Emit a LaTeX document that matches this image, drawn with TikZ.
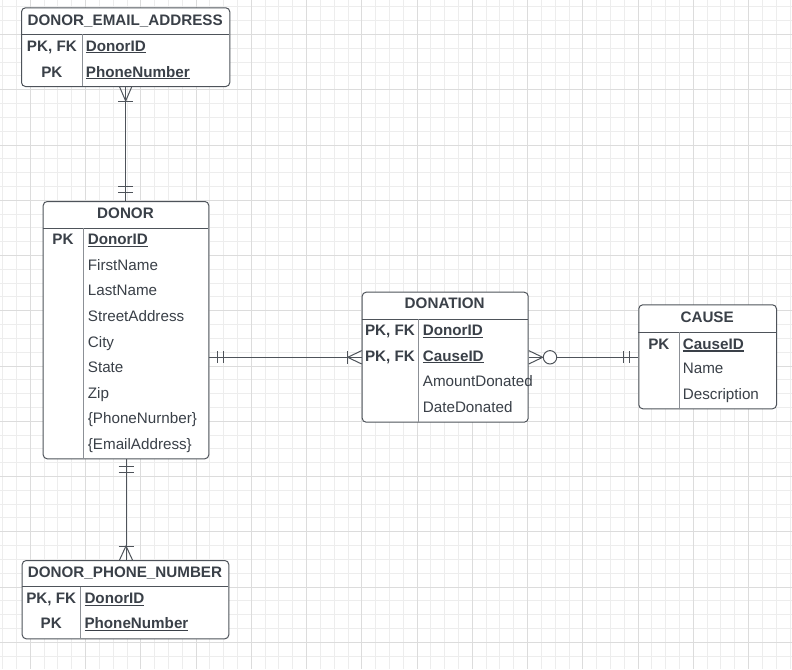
\documentclass[tikz,border=0pt]{standalone}
\usepackage{fontspec}
\setmainfont{Liberation Sans}
\usetikzlibrary{calc}
\definecolor{ink}{RGB}{58,64,72}
\definecolor{edge}{RGB}{78,83,90}
\definecolor{divc}{RGB}{140,144,150}
\definecolor{gminor}{RGB}{237,237,237}
\definecolor{gmajor}{RGB}{220,220,220}
\newcommand\ulkey[1]{\setbox0=\hbox{\bfseries #1}\rlap{\rule[-2.3pt]{\wd0}{1.1pt}}\box0}
\tikzset{
  ent/.style={draw=edge, line width=1pt, fill=white, rounded corners=4pt, inner sep=0pt, anchor=north west},
  hdr/.style={font=\bfseries\fontsize{15.2}{18}\selectfont, text=ink, anchor=base, inner sep=0pt},
  keyc/.style={font=\bfseries\fontsize{15.2}{18}\selectfont, text=ink, anchor=base, inner sep=0pt},
  att/.style={font=\fontsize{15.2}{18}\selectfont, text=ink, anchor=base west, inner sep=0pt},
  hline/.style={draw=edge, line width=1pt},
  vline/.style={draw=divc, line width=1.2pt},
  conn/.style={draw=edge, line width=1pt},
}
\begin{document}
\begin{tikzpicture}[x=1pt,y=-1pt]
\useasboundingbox (0,0) rectangle (792,669);
\fill[white] (0,0) rectangle (792,669);
% grid
\foreach \i in {0,...,57} \draw[gminor, line width=0.9pt] ({2.675+\i*13.8125},0) -- ++(0,669);
\foreach \i in {0,...,47} \draw[gminor, line width=0.9pt] (0,{6.875+\i*13.8125}) -- ++(792,0);
\foreach \i in {0,...,13} \draw[gmajor, line width=0.9pt] ({30.3+\i*55.25},0) -- ++(0,669);
\foreach \i in {0,...,11} \draw[gmajor, line width=0.9pt] (0,{34.5+\i*55.25}) -- ++(792,0);

% entities
\node[ent, minimum width=208.3pt, minimum height=78.7pt] (email) at (21,7.3) {};
\node[ent, minimum width=165.6pt, minimum height=257.3pt] (donor) at (42.7,201) {};
\node[ent, minimum width=166pt, minimum height=130pt] (donation) at (361.7,291.7) {};
\node[ent, minimum width=137.7pt, minimum height=104pt] (cause) at (638.3,304.3) {};
\node[ent, minimum width=206.6pt, minimum height=78.3pt] (phone) at (21.7,560) {};

% internal lines
\draw[hline] (21,34.3) -- (229.3,34.3);
\draw[vline] (82.7,34.3) -- (82.7,86);
\draw[hline] (42.7,228) -- (208.3,228);
\draw[vline] (83.3,228) -- (83.3,458.3);
\draw[hline] (361.7,319) -- (527.7,319);
\draw[vline] (418.3,319) -- (418.3,421.7);
\draw[hline] (638.3,332.3) -- (776,332.3);
\draw[vline] (679.3,332.3) -- (679.3,408.3);
\draw[hline] (21.7,586.7) -- (228.3,586.7);
\draw[vline] (80.7,586.7) -- (80.7,638.3);

% DONOR_EMAIL_ADDRESS
\node[hdr] (emailh) at (125.15,26) {DONOR\_EMAIL\_ADDRESS};
\node[keyc] (emailk1) at (51.9,51.2) {PK, FK};
\node[att] (emaila1) at (85.7,51.2) {\ulkey{DonorID}};
\node[keyc] (emailk2) at (51.9,77.1) {PK};
\node[att] (emaila2) at (85.7,77.1) {\ulkey{PhoneNumber}};

% DONOR
\node[hdr] (donorh) at (125.5,218) {DONOR};
\node[keyc] (donork1) at (63,244.7) {PK};
\node[att] (donora1) at (87.7,244.7) {\ulkey{DonorID}};
\node[att] (donora2) at (87.7,270.3) {FirstName};
\node[att] (donora3) at (87.7,295.9) {LastName};
\node[att] (donora4) at (87.7,321.5) {StreetAddress};
\node[att] (donora5) at (87.7,347.1) {City};
\node[att] (donora6) at (87.7,372.7) {State};
\node[att] (donora7) at (87.7,398.3) {Zip};
\node[att] (donora8) at (87.7,423.9) {\{PhoneNurnber\}};
\node[att] (donora9) at (87.7,449.5) {\{EmailAddress\}};

% DONATION
\node[hdr] (donationh) at (444.7,308.7) {DONATION};
\node[keyc] (donationk1) at (390,335.4) {PK, FK};
\node[att] (donationa1) at (422.7,335.4) {\ulkey{DonorID}};
\node[keyc] (donationk2) at (390,361) {PK, FK};
\node[att] (donationa2) at (422.7,361) {\ulkey{CauseID}};
\node[att] (donationa3) at (422.7,386.6) {AmountDonated};
\node[att] (donationa4) at (422.7,412.2) {DateDonated};

% CAUSE
\node[hdr] (causeh) at (707.15,322.1) {CAUSE};
\node[keyc] (causek1) at (658.8,349.2) {PK};
\node[att] (causea1) at (682.7,349.2) {\ulkey{CauseID}};
\node[att] (causea2) at (682.7,373.9) {Name};
\node[att] (causea3) at (682.7,399.5) {Description};

% DONOR_PHONE_NUMBER
\node[hdr] (phoneh) at (125,577.1) {DONOR\_PHONE\_NUMBER};
\node[keyc] (phonek1) at (51.2,603.7) {PK, FK};
\node[att] (phonea1) at (84.3,603.7) {\ulkey{DonorID}};
\node[keyc] (phonek2) at (51.2,628.7) {PK};
\node[att] (phonea2) at (84.3,628.7) {\ulkey{PhoneNumber}};

% connector: email - donor
\draw[conn] (email.south) -- (email.south |- donor.north);
\draw[conn] ($(email.south)+(-6,0)$) -- ($(email.south)+(0,14)$) -- ($(email.south)+(6,0)$);
\draw[conn] ($(email.south)+(-7.5,14)$) -- ++(15,0);
\draw[conn] ($(email.south |- donor.north)+(-7.5,-15)$) -- ++(15,0);
\draw[conn] ($(email.south |- donor.north)+(-7.5,-9)$) -- ++(15,0);

% connector: donor - phone
\draw[conn] (donor.south) -- (donor.south |- phone.north);
\draw[conn] ($(donor.south)+(-7.5,7)$) -- ++(15,0);
\draw[conn] ($(donor.south)+(-7.5,13.5)$) -- ++(15,0);
\draw[conn] ($(donor.south |- phone.north)+(-6.5,0)$) -- ($(donor.south |- phone.north)+(0,-14)$) -- ($(donor.south |- phone.north)+(6.5,0)$);
\draw[conn] ($(donor.south |- phone.north)+(-7.5,-14)$) -- ++(15,0);

% connector: donor - donation
\coordinate (lvl) at (0,357.3);
\draw[conn] (donor.east |- lvl) -- (donation.west |- lvl);
\draw[conn] ($(donor.east |- lvl)+(7.7,-6)$) -- ++(0,12);
\draw[conn] ($(donor.east |- lvl)+(14,-6)$) -- ++(0,12);
\draw[conn] ($(donation.west |- lvl)+(0,-6.7)$) -- ($(donation.west |- lvl)+(-14,0)$) -- ($(donation.west |- lvl)+(0,6.7)$);
\draw[conn] ($(donation.west |- lvl)+(-14,-6.2)$) -- ++(0,12.4);

% connector: donation - cause
\draw[conn] (donation.east |- lvl) -- (cause.west |- lvl);
\draw[conn] ($(donation.east |- lvl)+(0,-6.7)$) -- ($(donation.east |- lvl)+(14,0)$) -- ($(donation.east |- lvl)+(0,6.7)$);
\draw[conn, fill=white] ($(donation.east |- lvl)+(21.3,0)$) circle[radius=6.7];
\draw[conn] ($(cause.west |- lvl)+(-15,-6)$) -- ++(0,12);
\draw[conn] ($(cause.west |- lvl)+(-9,-6)$) -- ++(0,12);
\end{tikzpicture}
\end{document}
